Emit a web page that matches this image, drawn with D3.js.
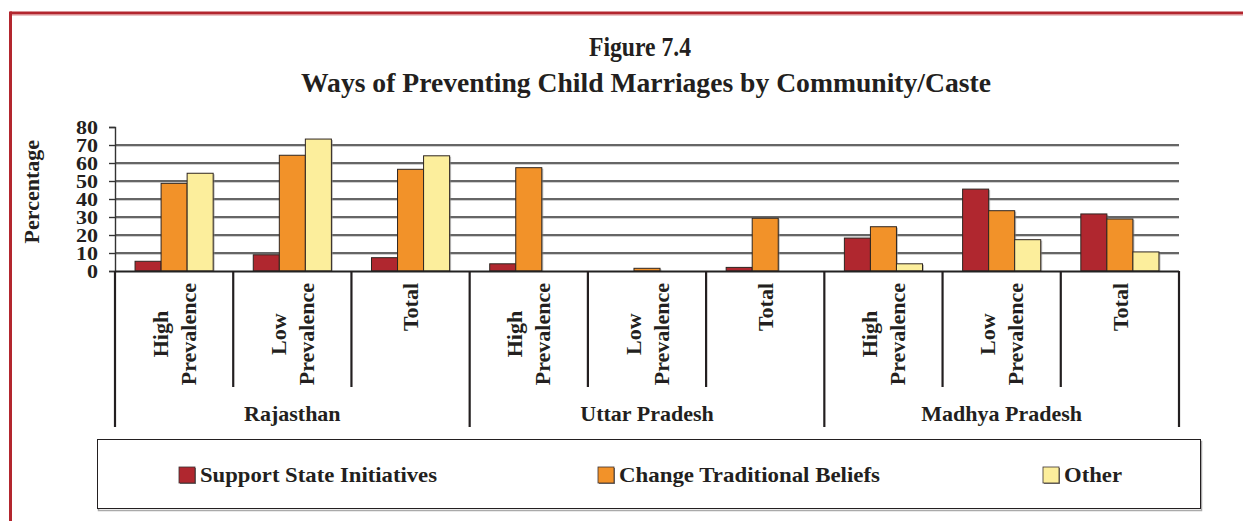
<!DOCTYPE html>
<html>
<head>
<meta charset="utf-8">
<script src="https://cdn.jsdelivr.net/npm/d3@7"></script>
<style>
  html, body { margin: 0; padding: 0; background: #fff; }
  svg { display: block; }
  text { font-family: "Liberation Serif", "Times New Roman", serif; font-weight: bold; fill: #231f20; }
</style>
</head>
<body>
<svg id="chart" width="1243" height="521"></svg>
<script>
// Survey categories: three states, each split by prevalence level plus a total
const states = ["Rajasthan", "Uttar Pradesh", "Madhya Pradesh"];
const subLabels = [["High", "Prevalence"], ["Low", "Prevalence"], ["Total"]];

// Percentage of respondents naming each way of preventing child marriages
const seriesNames = ["Support State Initiatives", "Change Traditional Beliefs", "Other"];
const supportState = [5.4, 9, 7.4, 4, 0, 2, 18.3, 45.5, 31.7];
const changeBeliefs = [48.7, 64.3, 56.5, 57.4, 1.5, 29.3, 24.6, 33.5, 28.9];
const otherWays = [54.3, 73.3, 64, 0, 0, 0, 4, 17.4, 10.6];
const yTicks = [0, 10, 20, 30, 40, 50, 60, 70, 80];

const colors = ["#b0272f", "#f29229", "#fcee9c"];

const svg = d3.select("#chart");

// Page frame (red rule at the top and left)
svg.append("line").attr("x1", 10).attr("x2", 1243).attr("y1", 13).attr("y2", 13)
  .attr("stroke", "#b3262e").attr("stroke-width", 3);
svg.append("line").attr("x1", 10).attr("x2", 1243).attr("y1", 15).attr("y2", 15)
  .attr("stroke", "#d98a8e").attr("stroke-width", 1);
svg.append("line").attr("x1", 10.5).attr("x2", 10.5).attr("y1", 11.5).attr("y2", 521)
  .attr("stroke", "#b3262e").attr("stroke-width", 3);

// Titles
svg.append("text").attr("x", 640).attr("y", 56).attr("text-anchor", "middle")
  .attr("font-size", 28).attr("textLength", 102).attr("lengthAdjust", "spacingAndGlyphs")
  .text("Figure 7.4");
svg.append("text").attr("x", 646).attr("y", 92).attr("text-anchor", "middle")
  .attr("font-size", 28).attr("textLength", 690).attr("lengthAdjust", "spacingAndGlyphs")
  .text("Ways of Preventing Child Marriages by Community/Caste");

// Scales
const x0 = 115, x1 = 1179, yBase = 271, yTop = 127;
const categories = d3.range(supportState.length);
const x = d3.scaleBand().domain(categories).range([x0, x1]).paddingInner(0).paddingOuter(0);
const xs = d3.scaleBand().domain(d3.range(seriesNames.length))
  .range([0, x.bandwidth()]).paddingInner(0).paddingOuter(0.77);
const y = d3.scaleLinear().domain([0, 80]).range([yBase, yTop]);

// Horizontal gridlines with a faint shadow below each
const gridVals = yTicks.filter(v => v > 0 && v < 80);
svg.append("g").selectAll("line").data(gridVals).join("line")
  .attr("x1", x0).attr("x2", x1)
  .attr("y1", d => y(d) + 1.5).attr("y2", d => y(d) + 1.5)
  .attr("stroke", "#cfcfcf").attr("stroke-width", 1);
svg.append("g").selectAll("line").data(gridVals).join("line")
  .attr("x1", x0).attr("x2", x1)
  .attr("y1", d => y(d)).attr("y2", d => y(d))
  .attr("stroke", "#333").attr("stroke-width", 1.6);

// Y axis
const yAxis = svg.append("g").attr("transform", `translate(${x0},0)`)
  .call(d3.axisLeft(y).tickValues(yTicks).tickSize(6).tickPadding(11).tickFormat(d3.format("d")));
yAxis.select(".domain").attr("stroke", "#333").attr("stroke-width", 1.4);
yAxis.selectAll(".tick line").attr("stroke", "#333").attr("stroke-width", 1.4);
yAxis.selectAll(".tick text").attr("font-size", 18).attr("font-family", "Liberation Serif")
  .attr("font-weight", "bold").attr("fill", "#231f20").attr("dy", "0.36em")
  .attr("textLength", d => String(d).length * 11).attr("lengthAdjust", "spacingAndGlyphs");

// Y axis title
const yTitle = svg.append("text").attr("font-size", 22).attr("text-anchor", "middle")
  .attr("dy", "0.35em").text("Percentage");
const yTitleLen = yTitle.node().getComputedTextLength();
yTitle.attr("transform", `translate(31,${140 + yTitleLen / 2}) rotate(-90)`);

// Bars
const series = [supportState, changeBeliefs, otherWays];
const barData = [];
series.forEach((vals, si) => vals.forEach((v, ci) => { if (v > 0) barData.push({ si, ci, v }); }));

const bars = svg.append("g");
bars.selectAll("rect.shadow").data(barData).join("rect").attr("class", "shadow")
  .attr("x", d => x(d.ci) + xs(d.si) + 1.5)
  .attr("y", d => y(d.v) + 1)
  .attr("width", xs.bandwidth())
  .attr("height", d => yBase - y(d.v) - 1)
  .attr("fill", "#8a8a8a").attr("opacity", 0.55);
bars.selectAll("rect.bar").data(barData).join("rect").attr("class", "bar")
  .attr("x", d => x(d.ci) + xs(d.si))
  .attr("y", d => y(d.v))
  .attr("width", xs.bandwidth())
  .attr("height", d => yBase - y(d.v))
  .attr("fill", d => colors[d.si])
  .attr("stroke", "#2e2520").attr("stroke-width", 1);

// X axis baseline
svg.append("line").attr("x1", x0).attr("x2", x1).attr("y1", yBase + 0.5).attr("y2", yBase + 0.5)
  .attr("stroke", "#222").attr("stroke-width", 2.2);

// Category dividers: short between sub-categories, long between states
const bounds = d3.range(categories.length + 1);
svg.append("g").selectAll("line").data(bounds).join("line")
  .attr("x1", i => i < categories.length ? x(i) : x1)
  .attr("x2", i => i < categories.length ? x(i) : x1)
  .attr("y1", yBase)
  .attr("y2", i => (i % 3 === 0) ? 427 : 387)
  .attr("stroke", "#231f20").attr("stroke-width", 2.2);

// Rotated sub-category labels
categories.forEach(ci => {
  const lines = subLabels[ci % 3];
  const cx = x(ci) + x.bandwidth() / 2;
  const g = svg.append("g");
  const texts = lines.map((t, li) => {
    const dx = (li - (lines.length - 1) / 2) * 28;
    return g.append("text").attr("font-size", 22).attr("text-anchor", "middle")
      .attr("dy", "0.35em").attr("data-dx", dx).text(t);
  });
  const maxLen = d3.max(texts, t => t.node().getComputedTextLength());
  texts.forEach(t => {
    const dx = +t.attr("data-dx");
    t.attr("transform", `translate(${cx + dx},${283 + maxLen / 2}) rotate(-90)`);
  });
});

// State labels
svg.append("g").selectAll("text").data(states).join("text")
  .attr("x", (d, i) => (x(i * 3) + (i * 3 + 3 < categories.length ? x(i * 3 + 3) : x1)) / 2)
  .attr("y", 421).attr("text-anchor", "middle").attr("font-size", 22)
  .text(d => d);

// Legend
svg.append("rect").attr("x", 98.5).attr("y", 441.5).attr("width", 1103).attr("height", 69)
  .attr("fill", "none").attr("stroke", "#aaa").attr("stroke-width", 1.5);
svg.append("rect").attr("x", 97.5).attr("y", 439.5).attr("width", 1103).attr("height", 69)
  .attr("fill", "#fff").attr("stroke", "#231f20").attr("stroke-width", 1);

const legendX = [179, 598, 1043];
const legendLen = [237, 261, 58];
const legend = svg.append("g").selectAll("g").data(seriesNames).join("g")
  .attr("transform", (d, i) => `translate(${legendX[i]},467)`);
legend.append("rect").attr("x", 1).attr("y", 1).attr("width", 16).attr("height", 16)
  .attr("fill", "#777");
legend.append("rect").attr("width", 16).attr("height", 16)
  .attr("fill", (d, i) => colors[i]).attr("stroke", "#3a3030").attr("stroke-width", 0.8);
legend.append("text").attr("x", 21).attr("y", 15).attr("font-size", 22)
  .attr("textLength", (d, i) => legendLen[i]).attr("lengthAdjust", "spacingAndGlyphs")
  .text(d => d);
</script>
</body>
</html>
